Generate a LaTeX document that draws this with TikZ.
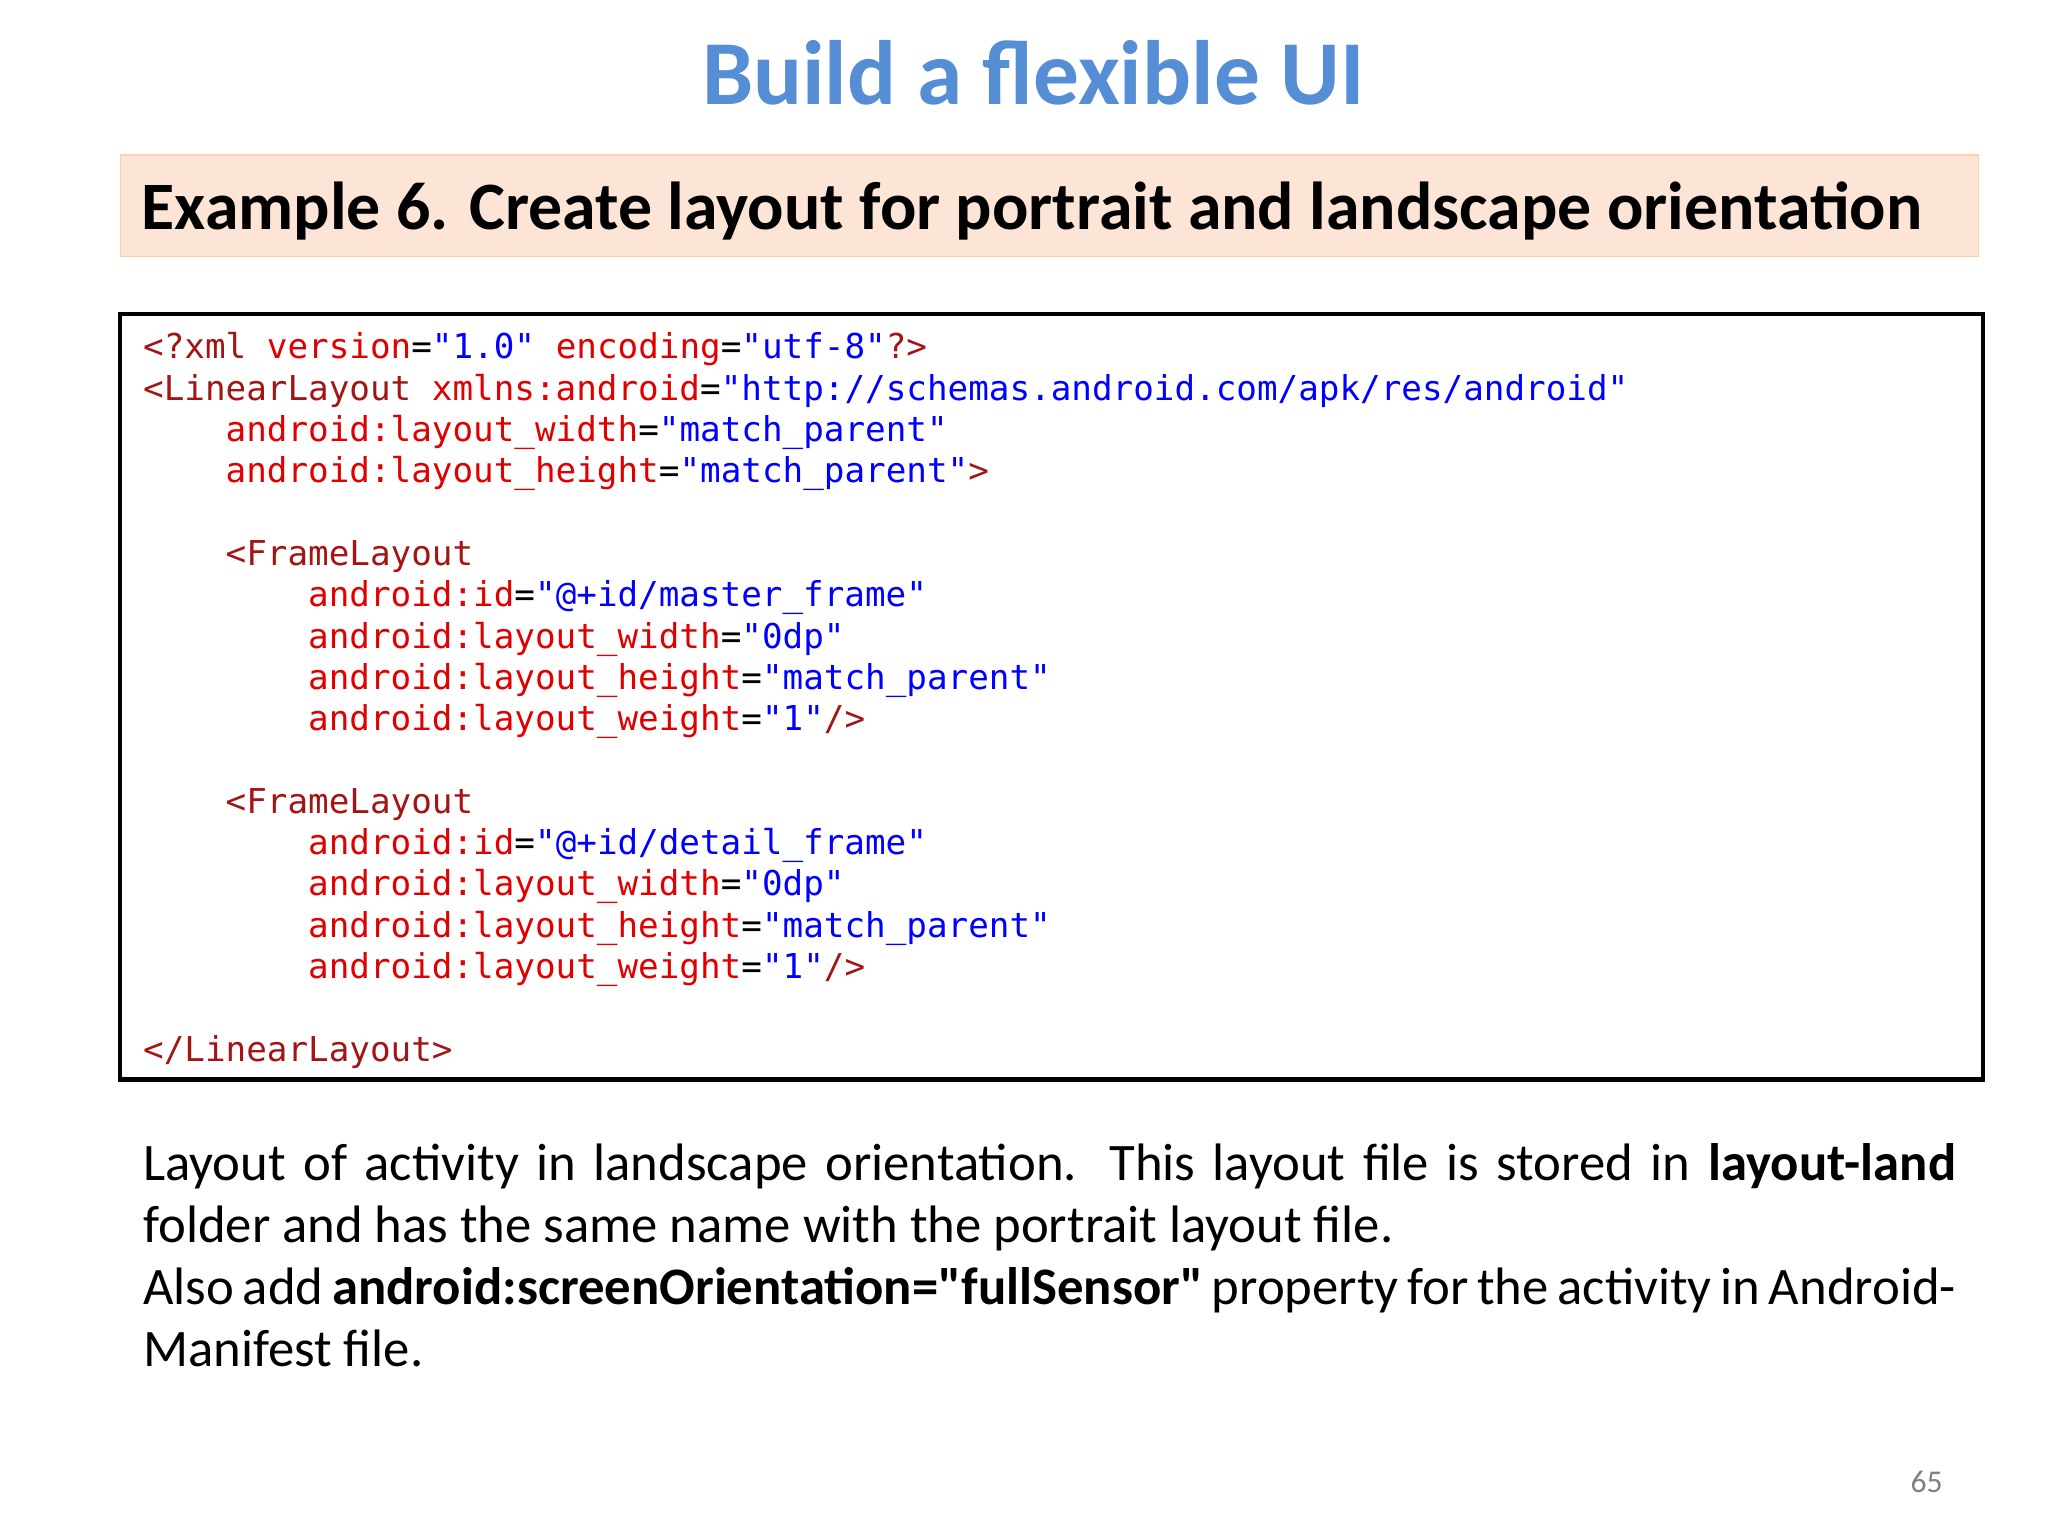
\documentclass[tikz,border=0pt]{standalone}
\usepackage{fontspec}
\setmainfont{Carlito}[Ligatures=TeXOff]
\setmonofont{DejaVu Sans Mono}
\definecolor{titleblue}{HTML}{558ED5}
\definecolor{peach}{HTML}{FCE4D6}
\definecolor{tagc}{HTML}{A31515}
\definecolor{attc}{HTML}{E00000}
\definecolor{valc}{HTML}{0000FF}
\newcommand{\tg}[1]{\textcolor{tagc}{#1}}
\newcommand{\at}[1]{\textcolor{attc}{#1}}
\newcommand{\vl}[1]{\textcolor{valc}{#1}}
\newcommand{\ind}[1]{\hspace*{#1\fontcharwd\font`0}}
\tikzset{codeline/.style={anchor=base west,inner sep=0pt,font=\ttfamily\fontsize{9.75pt}{11pt}\selectfont}}
\begin{document}
\begin{tikzpicture}[x=0.013196cm,y=-0.013196cm]
\useasboundingbox (0,0) rectangle (1552,1164);
\node[font=\bfseries\fontsize{26pt}{30pt}\selectfont,text=titleblue] (title) at (783,55) {Build a flexible UI};
\node[draw=peach!80!orange,fill=peach,minimum width=1412*0.3744pt,minimum height=77*0.3744pt,anchor=north west,inner sep=0pt] (hbox) at (91,117) {};
\node[anchor=west,inner sep=0pt,font=\bfseries\fontsize{19.3pt}{23pt}\selectfont] (head) at (107,160) {Example 6. Create layout for portrait and landscape orientation};
\draw[line width=1.2pt] (91,238) rectangle (1503,818);
\node[codeline] (l0) at (108,272) {\tg{<?xml} \at{version}=\vl{"1.0"} \at{encoding}=\vl{"utf-8"}\tg{?>}};
\node[codeline] (l1) at (108,303.3) {\tg{<LinearLayout} \at{xmlns:android}=\vl{"http://schemas.android.com/apk/res/android"}};
\node[codeline] (l2) at (108,334.6) {\ind{4}\at{android:layout\_width}=\vl{"match\_parent"}};
\node[codeline] (l3) at (108,365.9) {\ind{4}\at{android:layout\_height}=\vl{"match\_parent"}\tg{>}};
\node[codeline] (l5) at (108,428.5) {\ind{4}\tg{<FrameLayout}};
\node[codeline] (l6) at (108,459.8) {\ind{8}\at{android:id}=\vl{"@+id/master\_frame"}};
\node[codeline] (l7) at (108,491.1) {\ind{8}\at{android:layout\_width}=\vl{"0dp"}};
\node[codeline] (l8) at (108,522.4) {\ind{8}\at{android:layout\_height}=\vl{"match\_parent"}};
\node[codeline] (l9) at (108,553.7) {\ind{8}\at{android:layout\_weight}=\vl{"1"}\tg{/>}};
\node[codeline] (l11) at (108,616.3) {\ind{4}\tg{<FrameLayout}};
\node[codeline] (l12) at (108,647.6) {\ind{8}\at{android:id}=\vl{"@+id/detail\_frame"}};
\node[codeline] (l13) at (108,678.9) {\ind{8}\at{android:layout\_width}=\vl{"0dp"}};
\node[codeline] (l14) at (108,710.2) {\ind{8}\at{android:layout\_height}=\vl{"match\_parent"}};
\node[codeline] (l15) at (108,741.5) {\ind{8}\at{android:layout\_weight}=\vl{"1"}\tg{/>}};
\node[codeline] (l17) at (108,804.1) {\tg{</LinearLayout>}};
\node[anchor=north west,inner sep=0pt,text width=1378*0.3744pt,align=justify,font=\fontsize{15pt}{17.6pt}\selectfont] (para) at (108,866)
{\hyphenpenalty=10000\relax\exhyphenpenalty=10000\relax Layout of activity in landscape orientation. This layout file is stored in \textbf{layout-land} folder and has the same name with the portrait layout file.\\
Also add \textbf{android:screenOrientation="fullSensor"} property for the activity in AndroidManifest file.};
\node[text=gray,font=\fontsize{9pt}{11pt}\selectfont] (pg) at (1460,1123) {65};
\end{tikzpicture}
\end{document}
